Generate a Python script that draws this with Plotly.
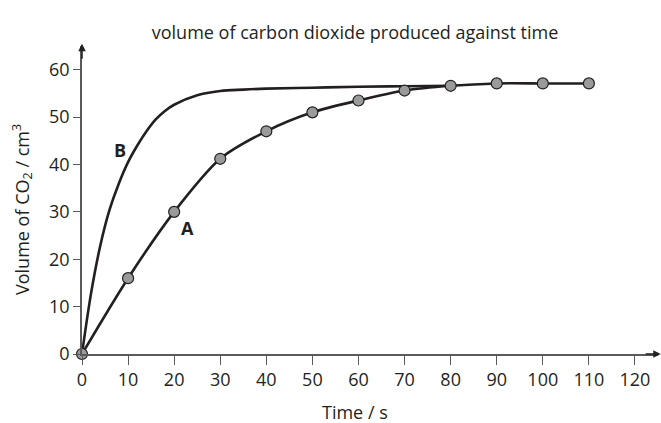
import plotly.graph_objects as go

# Curve A (measured points)
time_a = [0, 10, 20, 30, 40, 50, 60, 70, 80, 90, 100, 110]
vol_a = [0, 16, 30, 41.2, 47, 51, 53.5, 55.6, 56.6, 57.1, 57.1, 57.1]

# Curve B (smooth line)
time_b = [0, 2, 4, 6, 8, 10, 12, 14, 16, 18, 20, 25, 30, 35, 40, 50, 60, 70, 80]
vol_b = [0, 13, 23, 30.5, 36, 40.5, 44, 47, 49.5, 51.3, 52.6, 54.6, 55.5, 55.8, 56, 56.2, 56.4, 56.5, 56.6]

x_ticks = list(range(0, 121, 10))
y_ticks = list(range(0, 61, 10))

ink = "#231f20"
axis_col = "#5a5a5a"
font_family = "Open Sans, Noto Sans, sans-serif"

L, R, T, B = 82, 3, 46, 69
PW, PH = 661 - L - R, 423 - T - B

fig = go.Figure()
fig.add_trace(go.Scatter(x=time_b, y=vol_b, mode="lines",
                         line=dict(color=ink, width=2.6, shape="spline", smoothing=1.0),
                         cliponaxis=False, showlegend=False, hoverinfo="skip"))
fig.add_trace(go.Scatter(x=time_a, y=vol_a, mode="lines+markers",
                         line=dict(color=ink, width=2.6, shape="spline", smoothing=0.8),
                         marker=dict(size=11, color="#9a9a9a", line=dict(color=ink, width=1.2)),
                         cliponaxis=False, showlegend=False))

fig.update_layout(
    width=661, height=423,
    margin=dict(l=L, r=R, t=T, b=B, autoexpand=False),
    paper_bgcolor="white", plot_bgcolor="white",
    font=dict(family=font_family, size=18, color=ink),
    title=dict(text="volume of carbon dioxide produced against time",
               x=355 / 661, xanchor="center", y=1 - 33 / 423, yanchor="middle",
               xref="container", yref="container", automargin=False,
               font=dict(size=18, color=ink)),
)
fig.update_xaxes(range=[0, 125], tickvals=x_ticks, ticks="outside", ticklen=9,
                 tickcolor=axis_col, showline=True, linecolor=axis_col, linewidth=1.5,
                 showgrid=False, zeroline=False, automargin=False,
                 tickfont=dict(size=18))
fig.update_yaxes(range=[0, 65], tickvals=y_ticks, ticks="outside", ticklen=7,
                 tickcolor=axis_col, showline=True, linecolor=axis_col, linewidth=1.5,
                 showgrid=False, zeroline=False, automargin=False,
                 tickfont=dict(size=18))

# axis titles (positions in paper fractions of the plot area)
fig.add_annotation(x=(355 - L) / PW, y=(423 - B - 412) / PH, xref="paper", yref="paper",
                   text="Time / s", showarrow=False, xanchor="center", yanchor="middle",
                   font=dict(size=18, color=ink))
fig.add_annotation(x=(22 - L) / PW, y=(423 - B - 210) / PH, xref="paper", yref="paper",
                   text="Volume of CO<sub>2</sub> / cm<sup>3</sup>", showarrow=False,
                   textangle=-90, xanchor="center", yanchor="middle",
                   font=dict(size=18, color=ink))

# axis arrows
fig.add_annotation(x=125.6, y=0, ax=122, ay=0, xref="x", yref="y", axref="x", ayref="y",
                   text="", showarrow=True, arrowhead=2, arrowsize=1, arrowwidth=1.5,
                   arrowcolor=ink)
fig.add_annotation(x=0, y=65.5, ax=0, ay=62, xref="x", yref="y", axref="x", ayref="y",
                   text="", showarrow=True, arrowhead=2, arrowsize=1, arrowwidth=1.5,
                   arrowcolor=ink)

# curve labels
fig.add_annotation(x=8.3, y=43.1, text="<b>B</b>", showarrow=False, font=dict(size=18, color=ink))
fig.add_annotation(x=22.9, y=26.6, text="<b>A</b>", showarrow=False, font=dict(size=18, color=ink))

fig.write_html("out.html", config={"displayModeBar": False},
               post_script="document.body.style.margin='0';document.body.style.padding='0';")
